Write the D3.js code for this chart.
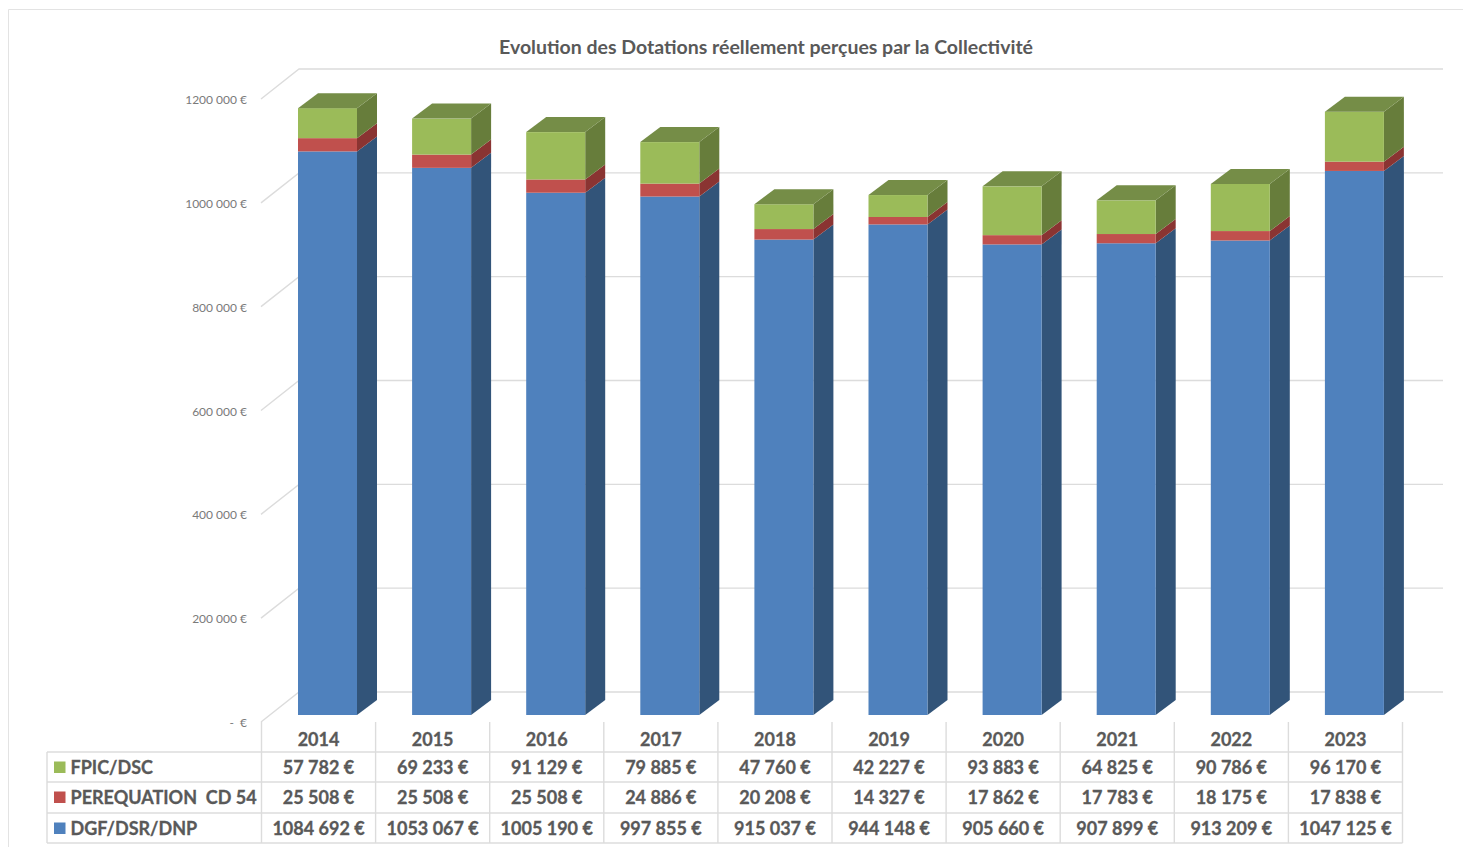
<!DOCTYPE html>
<html lang="fr">
<head>
<meta charset="utf-8">
<title>Evolution des Dotations</title>
<script src="https://cdn.jsdelivr.net/npm/d3@7/dist/d3.min.js"></script>
<style>
  html, body { margin: 0; padding: 0; background: #fff; overflow: hidden; }
  text { font-family: Lato, "Open Sans", sans-serif; }
</style>
</head>
<body>
<svg id="chart" width="1463" height="847"></svg>
<script>
const title = "Evolution des Dotations réellement perçues par la Collectivité";
const years = ["2014","2015","2016","2017","2018","2019","2020","2021","2022","2023"];
const dgf = [1084692,1053067,1005190,997855,915037,944148,905660,907899,913209,1047125];
const perequation = [25508,25508,25508,24886,20208,14327,17862,17783,18175,17838];
const fpic = [57782,69233,91129,79885,47760,42227,93883,64825,90786,96170];
const axisTicks = [0,200000,400000,600000,800000,1000000,1200000];
const seriesNames = ["FPIC/DSC","PEREQUATION  CD 54","DGF/DSR/DNP"];

const palette = {
  blue:  {front:"#4f81bd", side:"#325479"},
  red:   {front:"#c0504d", side:"#8a3432"},
  green: {front:"#9bbb59", side:"#677d3b", top:"#758d47"}
};

const svg = d3.select("#chart");
const fmt = d3.formatLocale({decimal:",", thousands:"\u00a0", grouping:[3,4], currency:["","\u00a0€"]}).format("$,");
const grid = "#dcdcdc", ink = "#595959";

// Front plane of the 3D box, back wall, and the left edge of the data table
const y = d3.scaleLinear().domain([0,1200000]).range([715,91.5]);
const yBack = d3.scaleLinear().domain([0,1200000]).range([692,69]);
const x = d3.scaleBand().domain(years).range([261.5,1402.5]);
const barW = 59, barInset = 36.5, depthX = 20, depthY = 15;
const wallLeft = 299, wallRight = 1443, floorLeft = 261, wallDrop = 30;

// Page frame
svg.append("path").attr("d","M8.5,847V9.5H1463").attr("fill","none").attr("stroke","#e3e3e3");

// Back wall gridlines and the slanted lines on the side wall
const g = svg.append("g").attr("fill","none").attr("stroke",grid).attr("stroke-width",1.4);
axisTicks.forEach(t => {
  g.append("path").attr("d", d3.line()([[floorLeft,yBack(t)+wallDrop],[wallLeft,yBack(t)],[wallRight,yBack(t)]]));
});

// Value axis, labels only: the slanted lines above act as ticks
const axis = d3.axisLeft(d3.scaleLinear().domain(y.domain()).range([yBack(0)+wallDrop+0.7, yBack(1200000)+wallDrop+0.7]))
  .tickValues(axisTicks).tickSize(0).tickPadding(0)
  .tickFormat(d => d === 0 ? "-  \u00a0€" : fmt(d));
const ag = svg.append("g").attr("transform","translate(247,0)").call(axis);
ag.select(".domain").remove();
ag.selectAll("text").attr("fill","#7a7a7a").attr("font-size",12);

// Stacked 3D columns
const stack = years.map((yr,i) => {
  const a = dgf[i], b = a + perequation[i], c = b + fpic[i];
  return {yr, segs:[
    {lo:0,hi:a,col:palette.blue},
    {lo:a,hi:b,col:palette.red},
    {lo:b,hi:c,col:palette.green}
  ], total:c};
});
const bars = svg.append("g").selectAll("g").data(stack).join("g");
bars.each(function(d){
  const s = d3.select(this);
  const x0 = x(d.yr) + barInset, x1 = x0 + barW;
  d.segs.forEach(seg => {
    const yl = y(seg.lo), yh = y(seg.hi);
    s.append("polygon").attr("fill",seg.col.side)
      .attr("points",[[x1,yl],[x1,yh],[x1+depthX,yh-depthY],[x1+depthX,yl-depthY]].join(" "));
    s.append("rect").attr("x",x0).attr("y",yh).attr("width",barW).attr("height",yl-yh).attr("fill",seg.col.front);
  });
  const yt = y(d.total);
  s.append("polygon").attr("fill",palette.green.top)
    .attr("points",[[x0,yt],[x1,yt],[x1+depthX,yt-depthY],[x0+depthX,yt-depthY]].join(" "));
});

// Title
svg.append("text").attr("x",766).attr("y",53.5).attr("text-anchor","middle")
  .attr("font-size",19.5).attr("font-weight",700).attr("fill",ink).text(title);

// Data table under the columns
const tableLeft = 47, tableTop = 722, headerBottom = 752;
const rowLines = [752,782,813,843];
const rows = [
  {name:seriesNames[0], values:fpic, swatch:palette.green.front},
  {name:seriesNames[1], values:perequation, swatch:palette.red.front},
  {name:seriesNames[2], values:dgf, swatch:palette.blue.front}
];
const t = svg.append("g");
const lines = t.append("g").attr("stroke",grid).attr("stroke-width",1.4);
rowLines.forEach(ry => lines.append("line").attr("x1",tableLeft).attr("x2",x.range()[1]).attr("y1",ry).attr("y2",ry));
lines.append("line").attr("x1",tableLeft).attr("x2",tableLeft).attr("y1",headerBottom).attr("y2",843);
[...years.map(v => x(v)), x.range()[1]].forEach(vx =>
  lines.append("line").attr("x1",vx).attr("x2",vx).attr("y1",tableTop).attr("y2",843));

const cell = (px,py,txt,anchor) => t.append("text").attr("x",px).attr("y",py)
  .attr("text-anchor",anchor).attr("font-size",18).attr("font-weight",700)
  .attr("fill",ink).attr("stroke",ink).attr("stroke-width",0.3)
  .style("white-space","pre").text(txt);

years.forEach(v => cell(x(v)+x.bandwidth()/2, 745.5, v, "middle"));
rows.forEach((r,i) => {
  const base = [773.5,804,834.5][i];
  t.append("rect").attr("x",54).attr("y",Math.round(base)-12.5).attr("width",11.5).attr("height",11.5).attr("fill",r.swatch);
  cell(70.5, base, r.name, "start");
  r.values.forEach((val,j) => cell(x(years[j])+x.bandwidth()/2, base, fmt(val), "middle"));
});
</script>
</body>
</html>
